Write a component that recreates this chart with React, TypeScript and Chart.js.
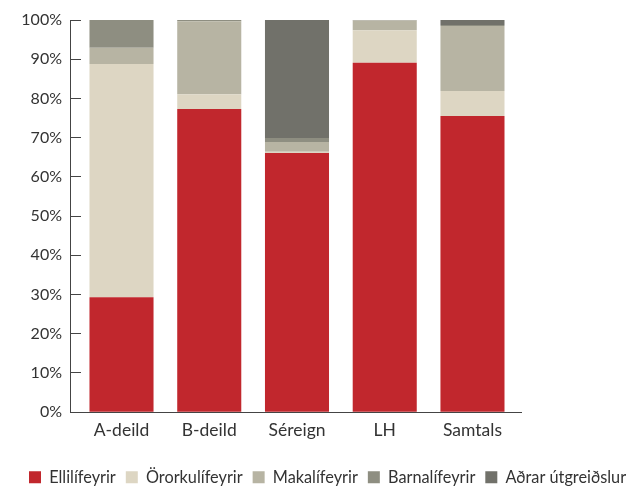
import React, { useEffect, useRef } from "react";
import { Chart, registerables } from "chart.js";

Chart.register(...registerables);

const categories = ["A-deild", "B-deild", "Séreign", "LH", "Samtals"];
const seriesNames = ["Ellilífeyrir", "Örorkulífeyrir", "Makalífeyrir", "Barnalífeyrir", "Aðrar útgreiðslur"];
const elli = [29.3, 77.3, 66.1, 89.1, 75.5];
const ororku = [59.5, 3.8, 0.3, 8.3, 6.4];
const maka = [4.1, 18.6, 2.5, 2.5, 16.6];
const barna = [7.1, 0.3, 1.0, 0.1, 0.2];
const adrar = [0, 0, 30.1, 0, 1.3];
const yTicks = [0, 10, 20, 30, 40, 50, 60, 70, 80, 90, 100];
const colors = ["#C1272D", "#DDD6C3", "#B7B4A3", "#8E8E81", "#71716A"];

const FONT = "Lato, 'Open Sans', sans-serif";

export default function App() {
  const ref = useRef<HTMLCanvasElement | null>(null);
  useEffect(() => {
    if (!ref.current) return;
    const all = [elli, ororku, maka, barna, adrar];
    const chart = new Chart(ref.current, {
      type: "bar",
      data: {
        datasets: all.map((vals, s) => ({
          label: seriesNames[s],
          data: vals.map((v, i) => ({ x: i, y: v })),
          backgroundColor: colors[s],
          borderWidth: 0,
          categoryPercentage: 1,
          barPercentage: 0.73,
          xAxisID: "x",
          yAxisID: "y",
        })),
      },
      options: {
        animation: false,
        responsive: false,
        layout: { padding: { left: 19, top: 20, right: 0, bottom: 2.5 } },
        plugins: {
          tooltip: { enabled: false },
          legend: {
            position: "bottom",
            align: "start",
            labels: {
              boxWidth: 12,
              boxHeight: 12,
              padding: 10,
              color: "#333333",
              font: { family: FONT, size: 16.3 },
            },
          },
        },
        scales: {
          x: {
            type: "linear",
            stacked: true,
            min: -0.587,
            max: 4.553,
            offset: false,
            grid: { display: false, drawTicks: false },
            border: { display: true, color: "#444444", width: 1 },
            afterBuildTicks: (s: any) => {
              s.ticks = categories.map((_, i) => ({ value: i }));
            },
            ticks: {
              padding: 8,
              color: "#333333",
              font: { family: FONT, size: 17.5 },
              callback: (v: any) => categories[v as number] ?? "",
            },
            afterFit: (s: any) => {
              s.height = 47;
              s.paddingLeft = 0;
              s.paddingRight = 0;
            },
          },
          y: {
            type: "linear",
            stacked: true,
            min: 0,
            max: 100,
            afterBuildTicks: (s: any) => {
              s.ticks = yTicks.map((v) => ({ value: v }));
            },
            grid: {
              drawOnChartArea: false,
              drawTicks: true,
              tickLength: -11,
              color: "#444444",
            },
            border: { display: true, color: "#444444", width: 1 },
            ticks: {
              padding: 19,
              color: "#333333",
              font: { family: FONT, size: 16 },
              callback: (v: any) => v + "%",
            },
            afterFit: (s: any) => {
              s.width = 51;
              s.paddingTop = 0;
              s.paddingBottom = 0;
            },
          },
          yR: {
            type: "linear",
            position: "right",
            display: true,
            grid: { display: false, drawTicks: false },
            border: { display: false },
            ticks: { display: false },
            afterFit: (s: any) => {
              s.width = 139;
              s.paddingTop = 0;
              s.paddingBottom = 0;
            },
          },
        },
      },
    } as any);
    return () => chart.destroy();
  }, []);
  return (
    <div style={{ position: "fixed", left: 0, top: 0, width: 630, height: 488, overflow: "hidden", background: "#fff" }}>
      <canvas ref={ref} width={660} height={498} style={{ display: "block" }} />
    </div>
  );
}
